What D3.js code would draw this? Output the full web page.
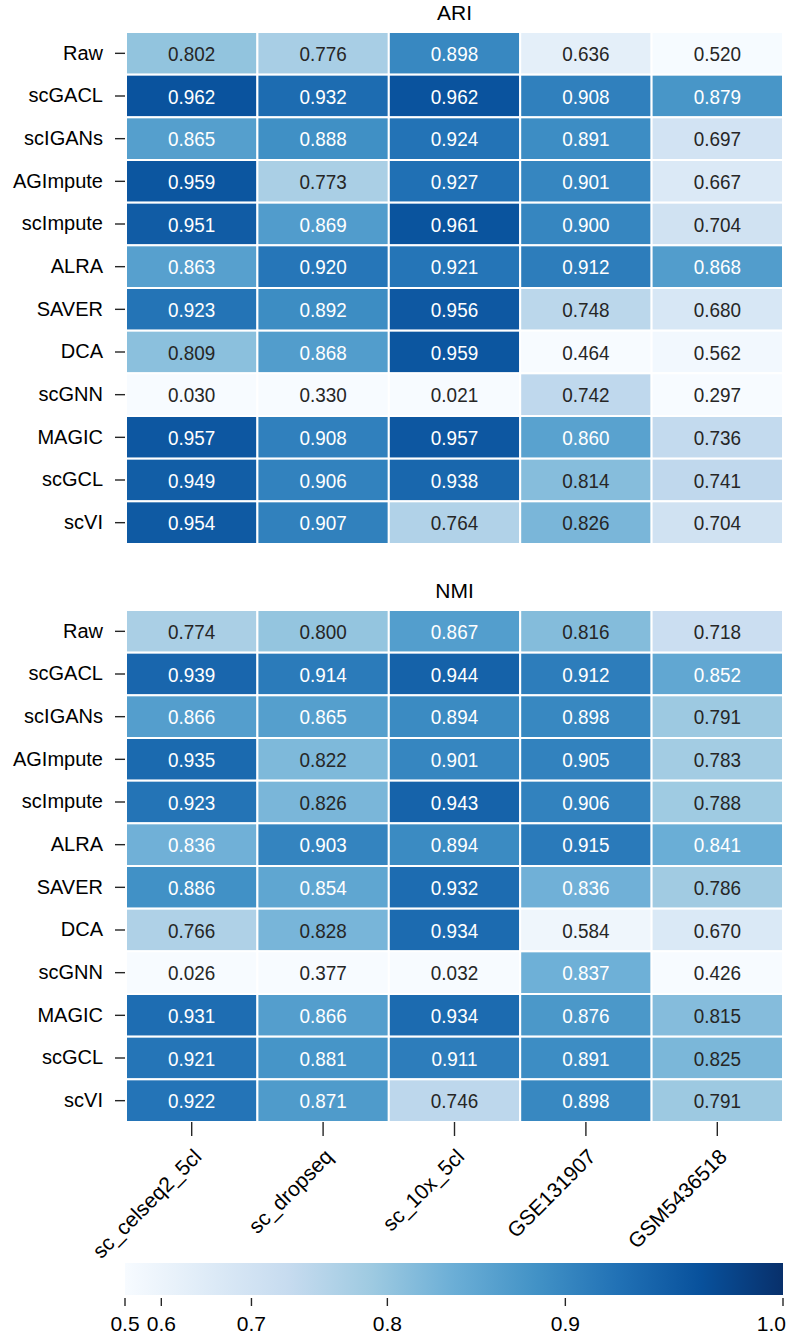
<!DOCTYPE html>
<html>
<head>
<meta charset="utf-8">
<script src="https://cdn.jsdelivr.net/npm/d3@7"></script>
<style>
  body { margin: 0; background: #fff; }
  svg text { font-family: "Liberation Sans", Arial, sans-serif; }
</style>
</head>
<body>
<svg id="chart" width="800" height="1335"></svg>
<script>
// methods (rows) and datasets (columns)
const methods = ["Raw", "scGACL", "scIGANs", "AGImpute", "scImpute", "ALRA", "SAVER", "DCA", "scGNN", "MAGIC", "scGCL", "scVI"];
const datasets = ["sc_celseq2_5cl", "sc_dropseq", "sc_10x_5cl", "GSE131907", "GSM5436518"];

const ari = [
  [0.802, 0.776, 0.898, 0.636, 0.520],
  [0.962, 0.932, 0.962, 0.908, 0.879],
  [0.865, 0.888, 0.924, 0.891, 0.697],
  [0.959, 0.773, 0.927, 0.901, 0.667],
  [0.951, 0.869, 0.961, 0.900, 0.704],
  [0.863, 0.920, 0.921, 0.912, 0.868],
  [0.923, 0.892, 0.956, 0.748, 0.680],
  [0.809, 0.868, 0.959, 0.464, 0.562],
  [0.030, 0.330, 0.021, 0.742, 0.297],
  [0.957, 0.908, 0.957, 0.860, 0.736],
  [0.949, 0.906, 0.938, 0.814, 0.741],
  [0.954, 0.907, 0.764, 0.826, 0.704]
];

const nmi = [
  [0.774, 0.800, 0.867, 0.816, 0.718],
  [0.939, 0.914, 0.944, 0.912, 0.852],
  [0.866, 0.865, 0.894, 0.898, 0.791],
  [0.935, 0.822, 0.901, 0.905, 0.783],
  [0.923, 0.826, 0.943, 0.906, 0.788],
  [0.836, 0.903, 0.894, 0.915, 0.841],
  [0.886, 0.854, 0.932, 0.836, 0.786],
  [0.766, 0.828, 0.934, 0.584, 0.670],
  [0.026, 0.377, 0.032, 0.837, 0.426],
  [0.931, 0.866, 0.934, 0.876, 0.815],
  [0.921, 0.881, 0.911, 0.891, 0.825],
  [0.922, 0.871, 0.746, 0.898, 0.791]
];

const cbTicks = [0.5, 0.6, 0.7, 0.8, 0.9, 1.0];

// Blues colormap with a power norm (gamma 1.8) over 0.5 .. 1.0
const blues = ["#f7fbff", "#deebf7", "#c6dbef", "#9ecae1", "#6baed6", "#4292c6", "#2171b5", "#08519c", "#08306b"];
const vmin = 0.5, vmax = 1.0;
const norm = d3.scalePow().exponent(1.8).domain([0, vmax - vmin]).range([0, 1]).clamp(true);
const cmap = d3.scaleLinear()
  .domain(blues.map((d, i) => i / (blues.length - 1)))
  .range(blues)
  .interpolate(d3.interpolateRgb)
  .clamp(true);
const color = v => cmap(norm(v - vmin));

// dark text on light cells, white on dark ones
function textColor(c) {
  const rgb = d3.rgb(c);
  const lin = u => { u /= 255; return u <= 0.03928 ? u / 12.92 : Math.pow((u + 0.055) / 1.055, 2.4); };
  const lum = 0.2126 * lin(rgb.r) + 0.7152 * lin(rgb.g) + 0.0722 * lin(rgb.b);
  return lum > 0.408 ? "#262626" : "#ffffff";
}

const svg = d3.select("#chart");
const ink = "#262626";
const fontFam = "Liberation Sans, Arial, sans-serif";

const x = d3.scaleBand().domain(datasets).range([126, 783]);

function heatmap(values, title, top, bottom, showX) {
  const y = d3.scaleBand().domain(methods).range([top, bottom]);
  const g = svg.append("g");

  const cells = values.flatMap((row, i) => row.map((v, j) => ({ m: methods[i], d: datasets[j], v })));

  g.selectAll("rect")
    .data(cells)
    .join("rect")
      .attr("x", d => x(d.d))
      .attr("y", d => y(d.m))
      .attr("width", x.bandwidth())
      .attr("height", y.bandwidth())
      .attr("fill", d => color(d.v))
      .attr("stroke", "#fff")
      .attr("stroke-width", 2);

  // annotations, slightly condensed like the original
  g.selectAll("text.val")
    .data(cells)
    .join("text")
      .attr("class", "val")
      .attr("transform", d => `translate(${x(d.d) + x.bandwidth() / 2},${y(d.m) + y.bandwidth() / 2}) scale(0.9,1)`)
      .attr("dy", "0.36em")
      .attr("text-anchor", "middle")
      .attr("font-size", 21)
      .attr("fill", d => textColor(color(d.v)))
      .text(d => d.v.toFixed(3));

  // title
  g.append("text")
    .attr("x", (x.range()[0] + x.range()[1]) / 2)
    .attr("y", top - 12)
    .attr("text-anchor", "middle")
    .attr("font-size", 21)
    .attr("fill", "#000")
    .text(title);

  // row labels
  g.append("g")
    .attr("transform", `translate(${x.range()[0] - 1},0)`)
    .call(d3.axisLeft(y).tickSize(10).tickPadding(12))
    .call(a => a.select(".domain").remove())
    .call(a => a.selectAll("line").attr("stroke", ink).attr("stroke-width", 1.4))
    .call(a => a.selectAll("text").attr("font-size", 20).attr("fill", "#000").attr("font-family", fontFam));

  if (showX) {
    g.append("g")
      .attr("transform", `translate(0,${bottom})`)
      .call(d3.axisBottom(x).tickSize(14).tickPadding(0))
      .call(a => a.select(".domain").remove())
      .call(a => a.selectAll("line").attr("stroke", ink).attr("stroke-width", 1.4))
      .call(a => a.selectAll("text")
        .attr("font-size", 21)
        .attr("fill", "#000")
        .attr("font-family", fontFam)
        .attr("text-anchor", "end")
        .attr("y", 0)
        .attr("dy", 0)
        .attr("transform", "translate(11,36) rotate(-45)"));
  }
}

heatmap(ari, "ARI", 32, 544, false);
heatmap(nmi, "NMI", 610, 1122, true);

// colorbar
const cbLeft = 125, cbRight = 783, cbTop = 1263, cbBottom = 1295;
const cbX = d3.scaleLinear().domain([0, 1]).range([cbLeft, cbRight]);

const defs = svg.append("defs");
const grad = defs.append("linearGradient").attr("id", "cbgrad").attr("x1", "0%").attr("x2", "100%");
grad.selectAll("stop")
  .data(blues)
  .join("stop")
    .attr("offset", (d, i) => `${100 * i / (blues.length - 1)}%`)
    .attr("stop-color", d => d);

svg.append("rect")
  .attr("x", cbLeft)
  .attr("y", cbTop)
  .attr("width", cbRight - cbLeft)
  .attr("height", cbBottom - cbTop)
  .attr("fill", "url(#cbgrad)");

const cbAxis = svg.append("g");
cbAxis.selectAll("line")
  .data(cbTicks)
  .join("line")
    .attr("x1", d => cbX(norm(d - vmin)))
    .attr("x2", d => cbX(norm(d - vmin)))
    .attr("y1", cbBottom + 3)
    .attr("y2", cbBottom + 11)
    .attr("stroke", ink)
    .attr("stroke-width", 1.4);

cbAxis.selectAll("text")
  .data(cbTicks)
  .join("text")
    .attr("x", d => cbX(norm(d - vmin)))
    .attr("y", 1331)
    .attr("text-anchor", d => d === 1.0 ? "end" : "middle")
    .attr("dx", d => d === 1.0 ? 3 : 0)
    .attr("font-size", 21)
    .attr("fill", "#000")
    .text(d => d.toFixed(1));
</script>
</body>
</html>
